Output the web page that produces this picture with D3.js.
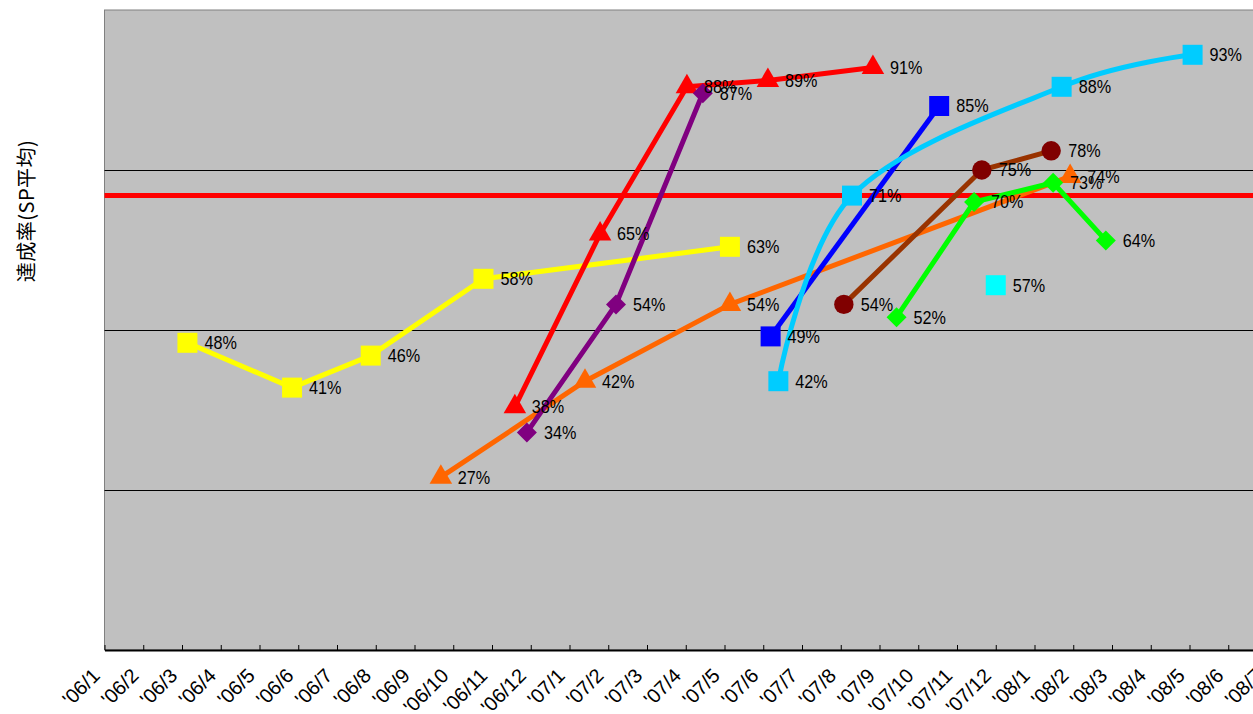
<!DOCTYPE html>
<html>
<head>
<meta charset="utf-8">
<script src="https://cdn.jsdelivr.net/npm/d3@7"></script>
<style>
  body { margin: 0; background: #fff; }
  svg { display: block; }
</style>
</head>
<body>
<div id="chart"></div>
<script>
// month tick labels (index 0 = '06/1)
const monthLabels = ["'06/1", "'06/2", "'06/3", "'06/4", "'06/5", "'06/6", "'06/7", "'06/8", "'06/9", "'06/10", "'06/11", "'06/12",
                     "'07/1", "'07/2", "'07/3", "'07/4", "'07/5", "'07/6", "'07/7", "'07/8", "'07/9", "'07/10", "'07/11", "'07/12",
                     "'08/1", "'08/2", "'08/3", "'08/4", "'08/5", "'08/6", "'08/7"];

// each series: x = months since '06/1, y = achievement rate
const yellowMonth = [2.14, 4.84, 6.87, 9.78, 16.14];
const yellowRate  = [0.48, 0.41, 0.46, 0.58, 0.63];

const redMonth = [10.59, 12.79, 15.03, 17.12, 19.83];
const redRate  = [0.38, 0.65, 0.88, 0.89, 0.91];

const purpleMonth = [10.90, 13.20, 15.44];
const purpleRate  = [0.34, 0.54, 0.87];

const orangeMonth = [8.68, 12.40, 16.14, 24.92];
const orangeRate  = [0.27, 0.42, 0.54, 0.74];

const blueMonth = [17.19, 21.54];
const blueRate  = [0.49, 0.85];

const skyMonth = [17.39, 19.29, 24.70, 28.08];
const skyRate  = [0.42, 0.71, 0.88, 0.93];

const brownMonth = [19.08, 22.64, 24.43];
const brownRate  = [0.54, 0.75, 0.78];

const greenMonth = [20.44, 22.44, 24.48, 25.84];
const greenRate  = [0.52, 0.70, 0.73, 0.64];

const cyanMonth = [23.0];
const cyanRate  = [0.57];

// target line
const targetRate = 0.71;

const width = 1253, height = 714;
const plotLeft = 104.5, monthW = 38.75, plotTop = 10, plotBottom = 650;

const x = d3.scaleLinear().domain([0, 30]).range([plotLeft, plotLeft + monthW * 30]);
const y = d3.scaleLinear().domain([0, 1]).range([plotBottom, plotTop]);

const svg = d3.select("#chart").append("svg")
    .attr("width", width)
    .attr("height", height);

// plot area
svg.append("rect")
    .attr("x", x(0))
    .attr("y", y(1))
    .attr("width", x(30) - x(0) + 20)
    .attr("height", y(0) - y(1))
    .attr("fill", "#c0c0c0")
    .attr("stroke", "#808080")
    .attr("stroke-width", 1);

// gridlines
svg.selectAll(".grid")
  .data([0.25, 0.5, 0.75])
  .enter().append("line")
    .attr("x1", x(0))
    .attr("x2", x(30) + 20)
    .attr("y1", d => Math.round(y(d)) + 0.5)
    .attr("y2", d => Math.round(y(d)) + 0.5)
    .attr("stroke", "#000")
    .attr("stroke-width", 1);

// x axis with inner ticks
const xAxis = svg.append("g")
    .attr("transform", "translate(0," + y(0) + ")")
    .call(d3.axisBottom(x)
      .tickValues(d3.range(0, 31))
      .tickSizeInner(-5)
      .tickSizeOuter(0)
      .tickFormat((d, i) => monthLabels[i]));

xAxis.select(".domain").attr("stroke", "#000").attr("stroke-width", 2);
xAxis.selectAll(".tick line").attr("stroke", "#000");
xAxis.selectAll(".tick text")
    .attr("x", 0)
    .attr("y", 0)
    .attr("dy", null)
    .attr("transform", "translate(-4,27) rotate(-45)")
    .style("text-anchor", "end")
    .style("font-family", "'Liberation Sans', Arial, sans-serif")
    .style("font-size", "20px")
    .attr("fill", "#000");

// y axis title
svg.append("text")
    .attr("transform", "translate(34,211) rotate(-90)")
    .attr("text-anchor", "middle")
    .style("font-family", "'Noto Sans CJK JP', sans-serif")
    .style("font-size", "20px")
    .style("letter-spacing", "0.5px")
    .text("達成率(SP平均)");

// target line
svg.append("line")
    .attr("x1", x(0))
    .attr("x2", width)
    .attr("y1", y(targetRate))
    .attr("y2", y(targetRate))
    .attr("stroke", "#ff0000")
    .attr("stroke-width", 5);

const series = [
  { month: yellowMonth, rate: yellowRate, line: "#ffff00", mark: "#ffff00", shape: "square" },
  { month: orangeMonth, rate: orangeRate, line: "#ff6600", mark: "#ff6600", shape: "triangle" },
  { month: redMonth, rate: redRate, line: "#ff0000", mark: "#ff0000", shape: "triangle" },
  { month: purpleMonth, rate: purpleRate, line: "#800080", mark: "#800080", shape: "diamond" },
  { month: blueMonth, rate: blueRate, line: "#0000ff", mark: "#0000ff", shape: "square" },
  { month: skyMonth, rate: skyRate, line: "#00ccff", mark: "#00ccff", shape: "square", smooth: true },
  { month: brownMonth, rate: brownRate, line: "#993300", mark: "#800000", shape: "circle" },
  { month: greenMonth, rate: greenRate, line: "#00ff00", mark: "#00ff00", shape: "diamond" },
  { month: cyanMonth, rate: cyanRate, line: null, mark: "#00ffff", shape: "square" }
];

const symbols = {
  square: d3.symbol().type(d3.symbolSquare).size(400),
  triangle: d3.symbol().type(d3.symbolTriangle).size(220),
  diamond: d3.symbol().type(d3.symbolSquare).size(200),
  circle: d3.symbol().type(d3.symbolCircle).size(295)
};

series.forEach(function(s) {
  const pts = s.month.map((m, i) => [x(m), y(s.rate[i])]);
  const g = svg.append("g");

  if (s.line && pts.length > 1) {
    const line = d3.line().curve(s.smooth ? d3.curveCardinal.tension(0) : d3.curveLinear);
    g.append("path")
        .attr("d", line(pts))
        .attr("fill", "none")
        .attr("stroke", s.line)
        .attr("stroke-width", 5)
        .attr("stroke-linejoin", "round");
  }

  g.selectAll("path.mark")
    .data(pts)
    .enter().append("path")
      .attr("class", "mark")
      .attr("d", symbols[s.shape])
      .attr("transform", d => "translate(" + d[0] + "," + d[1] + ")" + (s.shape === "diamond" ? " rotate(45)" : ""))
      .attr("fill", s.mark);
});

// data labels on top, slightly condensed
series.forEach(function(s) {
  svg.append("g").selectAll("text")
    .data(s.month.map((m, i) => ({ m: m, r: s.rate[i] })))
    .enter().append("text")
      .attr("transform", d => "translate(" + (x(d.m) + 17) + "," + y(d.r) + ") scale(0.9,1)")
      .attr("dy", "0.36em")
      .style("font-family", "'Liberation Sans', Arial, sans-serif")
      .style("font-size", "18px")
      .attr("fill", "#000")
      .text(d => Math.round(d.r * 100) + "%");
});
</script>
</body>
</html>
